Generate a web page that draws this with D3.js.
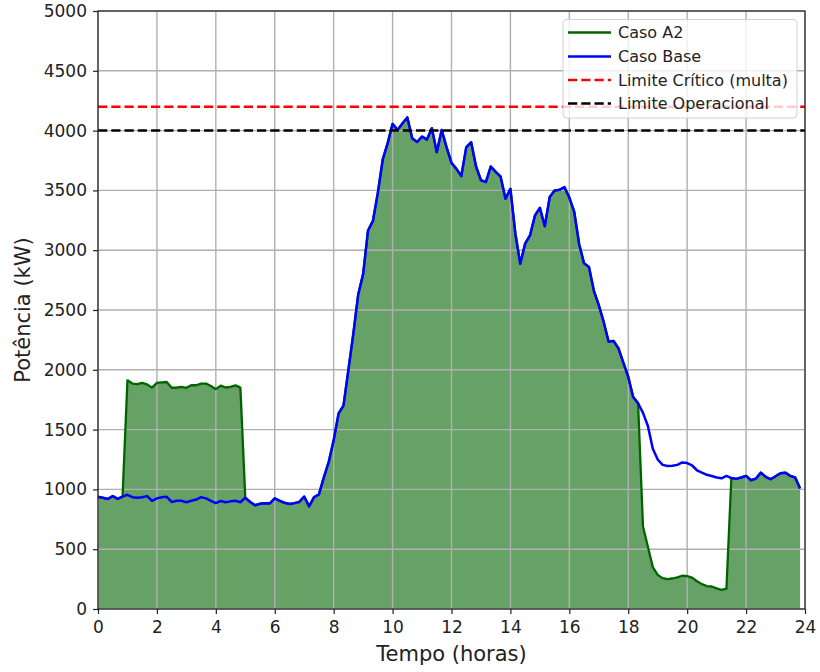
<!DOCTYPE html>
<html>
<head>
<meta charset="utf-8">
<script src="https://d3js.org/d3.v7.min.js"></script>
<style>
  body { margin: 0; background: #fff; }
  svg { display: block; font-family: "DejaVu Sans", sans-serif; }
</style>
</head>
<body>
<svg id="main-svg" width="820" height="672"></svg>
<script>
// sample times, every 10 minutes
let hours = d3.range(144).map(function (i) { return i / 6; });

// Caso Base (kW)
let casoBase = [
  938, 930, 920, 944, 921, 940, 955, 935, 930, 935, 944, 905,
  925, 935, 938, 895, 905, 905, 893, 905, 915, 935, 925, 905,
  885, 903, 893, 900, 905, 893, 930, 895, 868, 880, 885, 883,
  925, 905, 888, 878, 885, 895, 940, 858, 935, 958, 1100, 1230,
  1410, 1635, 1700, 2000, 2300, 2630, 2800, 3165, 3245, 3480, 3760, 3895,
  4056, 4005, 4060, 4110, 3935, 3905, 3950, 3925, 4020, 3820, 4005, 3860,
  3730, 3680, 3620, 3860, 3903, 3700, 3585, 3570, 3700, 3655, 3615, 3430,
  3513, 3140, 2887, 3055, 3125, 3290, 3354, 3200, 3444, 3499, 3505, 3527,
  3440, 3320, 3050, 2890, 2860, 2660, 2540, 2400, 2235, 2241, 2180, 2060,
  1940, 1773, 1720, 1640, 1530, 1340, 1250, 1205, 1195, 1197, 1205, 1225,
  1220, 1200, 1160, 1140, 1122, 1112, 1100, 1093, 1113, 1095, 1088, 1100,
  1113, 1077, 1090, 1140, 1105, 1085, 1110, 1135, 1140, 1113, 1100, 1008
];

// Caso A2 (kW)
let casoA2 = [
  938, 930, 920, 944, 921, 940, 1912, 1885, 1880, 1890, 1878, 1851,
  1890, 1895, 1898, 1850, 1850, 1857, 1849, 1871, 1871, 1885, 1885, 1865,
  1838, 1868, 1852, 1857, 1870, 1851, 930, 895, 868, 880, 885, 883,
  925, 905, 888, 878, 885, 895, 940, 858, 935, 958, 1100, 1230,
  1410, 1635, 1700, 2000, 2300, 2630, 2800, 3165, 3245, 3480, 3760, 3895,
  4056, 4005, 4060, 4110, 3935, 3905, 3950, 3925, 4020, 3820, 4005, 3860,
  3730, 3680, 3620, 3860, 3903, 3700, 3585, 3570, 3700, 3655, 3615, 3430,
  3513, 3140, 2887, 3055, 3125, 3290, 3354, 3200, 3444, 3499, 3505, 3527,
  3440, 3320, 3050, 2890, 2860, 2660, 2540, 2400, 2235, 2241, 2180, 2060,
  1940, 1773, 1720, 690, 520, 350, 285, 258, 250, 255, 265, 278,
  275, 262, 232, 208, 192, 188, 172, 160, 170, 1095, 1088, 1100,
  1113, 1077, 1090, 1140, 1105, 1085, 1110, 1135, 1140, 1113, 1100, 1008
];

let limiteCritico = 4200;
let limiteOperacional = 4000;

let xTicks = d3.range(0, 25, 2);
let yTicks = d3.range(0, 5001, 500);

let legendLabels = ["Caso A2", "Caso Base", "Limite Crítico (multa)", "Limite Operacional"];

// plot area
let plotLeft = 98, plotRight = 805, plotTop = 11, plotBottom = 609;

let svg = d3.select("#main-svg");
let x = d3.scaleLinear().domain([0, 24]).range([plotLeft, plotRight]);
let y = d3.scaleLinear().domain([0, 5000]).range([plotBottom, plotTop]);

let dataA2 = hours.map(function (h, i) { return { h: h, v: casoA2[i] }; });
let dataBase = hours.map(function (h, i) { return { h: h, v: casoBase[i] }; });

// fill under Caso A2
let area = d3.area()
  .x(function (d) { return x(d.h); })
  .y0(y(0))
  .y1(function (d) { return y(d.v); });

svg.append("path")
  .datum(dataA2)
  .attr("d", area)
  .attr("fill", "#006400")
  .attr("fill-opacity", 0.6);

// grid
let gridLayer = svg.append("g");
gridLayer.selectAll(".gx").data(xTicks).enter().append("line")
  .attr("x1", function (d) { return x(d); })
  .attr("x2", function (d) { return x(d); })
  .attr("y1", plotTop).attr("y2", plotBottom)
  .attr("stroke", "#b0b0b0").attr("stroke-width", 1.4);
gridLayer.selectAll(".gy").data(yTicks).enter().append("line")
  .attr("y1", function (d) { return y(d); })
  .attr("y2", function (d) { return y(d); })
  .attr("x1", plotLeft).attr("x2", plotRight)
  .attr("stroke", "#b0b0b0").attr("stroke-width", 1.4);

let line = d3.line()
  .x(function (d) { return x(d.h); })
  .y(function (d) { return y(d.v); });

svg.append("path")
  .datum(dataA2)
  .attr("d", line)
  .attr("fill", "none")
  .attr("stroke", "#006400")
  .attr("stroke-width", 2.3)
  .attr("stroke-linejoin", "round");

svg.append("path")
  .datum(dataBase)
  .attr("d", line)
  .attr("fill", "none")
  .attr("stroke", "#0000ff")
  .attr("stroke-width", 2.5)
  .attr("stroke-linejoin", "round");

// limits
svg.append("line")
  .attr("x1", plotLeft).attr("x2", plotRight)
  .attr("y1", y(limiteCritico)).attr("y2", y(limiteCritico))
  .attr("stroke", "#ff0000").attr("stroke-width", 2.5)
  .attr("stroke-dasharray", "9.25,4");

svg.append("line")
  .attr("x1", plotLeft).attr("x2", plotRight)
  .attr("y1", y(limiteOperacional)).attr("y2", y(limiteOperacional))
  .attr("stroke", "#000").attr("stroke-width", 2.5)
  .attr("stroke-dasharray", "9.25,4");

// axes
let xAxis = d3.axisBottom(x).tickValues(xTicks).tickSize(5).tickPadding(7).tickFormat(d3.format("d"));
let yAxis = d3.axisLeft(y).tickValues(yTicks).tickSize(5).tickPadding(6).tickFormat(d3.format("d"));

let gx = svg.append("g").attr("transform", "translate(0," + plotBottom + ")").call(xAxis);
let gy = svg.append("g").attr("transform", "translate(" + plotLeft + ",0)").call(yAxis);
[gx, gy].forEach(function (g) {
  g.select(".domain").remove();
  g.selectAll(".tick line").attr("stroke", "#222").attr("stroke-width", 1.2);
  g.selectAll(".tick text").attr("fill", "#222").style("font-size", "17px")
    .style("font-family", "'DejaVu Sans', sans-serif");
});

// frame
svg.append("rect")
  .attr("x", plotLeft).attr("y", plotTop)
  .attr("width", plotRight - plotLeft).attr("height", plotBottom - plotTop)
  .attr("fill", "none").attr("stroke", "#222").attr("stroke-width", 1.2);

// axis labels
svg.append("text")
  .attr("x", (plotLeft + plotRight) / 2).attr("y", 661)
  .attr("text-anchor", "middle")
  .style("font-size", "21px").attr("fill", "#222")
  .text("Tempo (horas)");

svg.append("text")
  .attr("transform", "translate(30," + ((plotTop + plotBottom) / 2) + ") rotate(-90)")
  .attr("text-anchor", "middle")
  .style("font-size", "21px").attr("fill", "#222")
  .text("Potência (kW)");

// legend
let legendStyles = [
  { color: "#006400", dash: null, width: 2.3 },
  { color: "#0000ff", dash: null, width: 2.5 },
  { color: "#ff0000", dash: "9.25,4", width: 2.5 },
  { color: "#000", dash: "9.25,4", width: 2.5 }
];
let legend = svg.append("g");
legend.append("rect")
  .attr("x", 563).attr("y", 19.5)
  .attr("width", 234).attr("height", 98.5)
  .attr("rx", 4).attr("ry", 4)
  .attr("fill", "#fff").attr("fill-opacity", 0.8)
  .attr("stroke", "#d0d0d0").attr("stroke-width", 1);

let rowY = [32.5, 56.5, 80, 103.5];
legendLabels.forEach(function (lab, i) {
  let s = legendStyles[i];
  legend.append("line")
    .attr("x1", 568).attr("x2", 611)
    .attr("y1", rowY[i]).attr("y2", rowY[i])
    .attr("stroke", s.color).attr("stroke-width", s.width)
    .attr("stroke-dasharray", s.dash);
  legend.append("text")
    .attr("x", 618).attr("y", rowY[i]).attr("dy", "0.36em")
    .style("font-size", "16px").attr("fill", "#222")
    .text(lab);
});
</script>
</body>
</html>
